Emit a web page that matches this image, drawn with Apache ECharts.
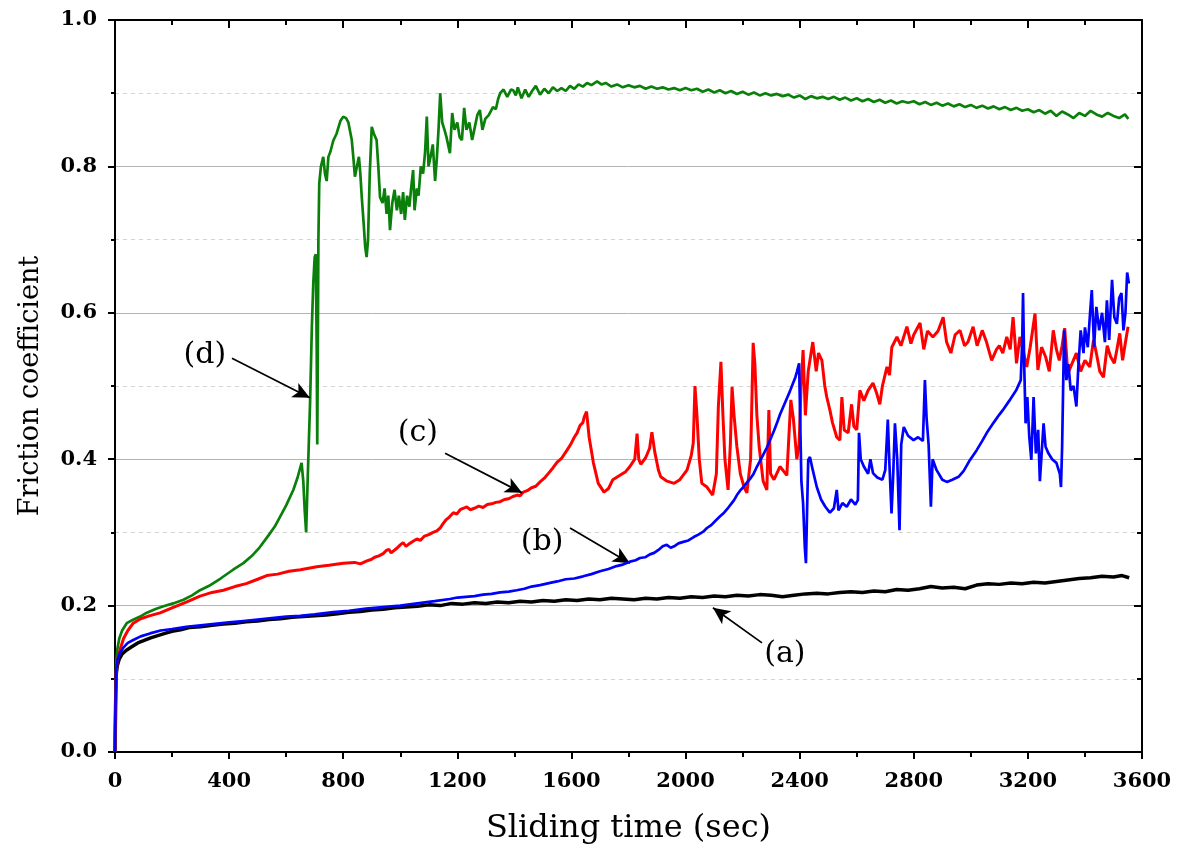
<!DOCTYPE html>
<html>
<head>
<meta charset="utf-8">
<script src="https://cdn.jsdelivr.net/npm/echarts@6/dist/echarts.min.js"></script>
<style>
html,body{margin:0;padding:0;background:#fff;}
#chart{width:1184px;height:850px;}
</style>
</head>
<body>
<div id="chart"></div>
<script>
// ---- axis ticks ----
const xTicks = [0, 400, 800, 1200, 1600, 2000, 2400, 2800, 3200, 3600];
const yTicks = [0.0, 0.2, 0.4, 0.6, 0.8, 1.0];

// ---- series (a) black: [time (sec), friction coefficient] ----
const seriesA = [[0,0],[2,0.06],[4,0.105],[8,0.118],[15,0.127],[25,0.134],[40,0.139],[60,0.144],[80,0.149],[100,0.152],[125,0.156],[150,0.159],[175,0.162],[200,0.165],[230,0.167],[260,0.170],[300,0.171],[340,0.173],[380,0.175],[420,0.176],[460,0.178],[500,0.179],[540,0.181],[580,0.182],[620,0.184],[660,0.185],[700,0.186],[740,0.187],[780,0.189],[820,0.191],[860,0.192],[900,0.194],[940,0.195],[980,0.197],[1020,0.198],[1060,0.199],[1100,0.201],[1140,0.200],[1180,0.203],[1220,0.202],[1260,0.204],[1300,0.203],[1340,0.205],[1380,0.204],[1420,0.206],[1460,0.205],[1500,0.207],[1540,0.206],[1580,0.208],[1620,0.207],[1660,0.209],[1700,0.208],[1740,0.210],[1780,0.209],[1820,0.208],[1860,0.210],[1900,0.209],[1940,0.211],[1980,0.210],[2020,0.212],[2060,0.211],[2100,0.213],[2140,0.212],[2180,0.214],[2220,0.213],[2260,0.215],[2300,0.214],[2340,0.212],[2380,0.214],[2420,0.216],[2460,0.217],[2500,0.216],[2540,0.218],[2580,0.219],[2620,0.218],[2660,0.220],[2700,0.219],[2740,0.222],[2780,0.221],[2820,0.223],[2860,0.226],[2900,0.224],[2940,0.225],[2980,0.223],[3020,0.228],[3060,0.230],[3100,0.229],[3140,0.231],[3180,0.230],[3220,0.232],[3260,0.231],[3300,0.233],[3340,0.235],[3380,0.237],[3420,0.238],[3460,0.240],[3500,0.239],[3530,0.241],[3555,0.238]];

// ---- series (b) blue ----
const seriesB = [[0,0],[2,0.07],[4,0.11],[8,0.125],[17,0.135],[30,0.143],[45,0.149],[64,0.153],[90,0.158],[123,0.162],[160,0.166],[200,0.168],[250,0.171],[300,0.173],[350,0.175],[400,0.177],[450,0.179],[500,0.181],[550,0.183],[600,0.185],[650,0.186],[700,0.188],[765,0.191],[820,0.193],[880,0.196],[940,0.198],[1000,0.200],[1060,0.203],[1120,0.206],[1174,0.209],[1200,0.211],[1230,0.212],[1260,0.213],[1290,0.215],[1320,0.216],[1350,0.218],[1380,0.219],[1408,0.221],[1435,0.223],[1460,0.226],[1490,0.228],[1525,0.231],[1550,0.233],[1580,0.236],[1610,0.237],[1641,0.240],[1670,0.243],[1700,0.247],[1730,0.250],[1758,0.254],[1780,0.256],[1805,0.260],[1825,0.262],[1840,0.265],[1858,0.266],[1875,0.270],[1890,0.272],[1905,0.276],[1920,0.281],[1934,0.283],[1948,0.279],[1960,0.281],[1975,0.285],[1992,0.287],[2010,0.289],[2030,0.294],[2045,0.297],[2062,0.301],[2075,0.306],[2090,0.310],[2105,0.316],[2121,0.322],[2135,0.327],[2150,0.334],[2160,0.339],[2170,0.344],[2180,0.351],[2191,0.357],[2203,0.362],[2215,0.368],[2226,0.373],[2237,0.379],[2248,0.388],[2260,0.397],[2272,0.406],[2285,0.416],[2297,0.427],[2310,0.439],[2320,0.449],[2331,0.461],[2343,0.472],[2355,0.483],[2366,0.493],[2377,0.504],[2385,0.512],[2390,0.519],[2398,0.531],[2402,0.45],[2406,0.37],[2412,0.34],[2418,0.28],[2422,0.258],[2426,0.33],[2430,0.399],[2436,0.403],[2446,0.385],[2460,0.362],[2475,0.345],[2490,0.335],[2506,0.327],[2520,0.333],[2530,0.358],[2536,0.33],[2550,0.34],[2565,0.335],[2580,0.345],[2595,0.338],[2604,0.344],[2608,0.436],[2614,0.40],[2625,0.39],[2640,0.38],[2648,0.40],[2657,0.381],[2672,0.375],[2690,0.372],[2700,0.385],[2709,0.454],[2715,0.39],[2722,0.326],[2728,0.38],[2734,0.449],[2742,0.40],[2750,0.303],[2756,0.42],[2765,0.444],[2780,0.432],[2799,0.426],[2815,0.43],[2832,0.425],[2839,0.508],[2845,0.455],[2852,0.42],[2860,0.335],[2866,0.40],[2880,0.385],[2900,0.372],[2916,0.369],[2935,0.372],[2957,0.376],[2975,0.384],[2997,0.399],[3020,0.412],[3040,0.425],[3056,0.436],[3080,0.450],[3100,0.461],[3112,0.467],[3135,0.480],[3160,0.495],[3175,0.508],[3180,0.56],[3183,0.627],[3187,0.53],[3192,0.449],[3198,0.485],[3205,0.43],[3212,0.399],[3220,0.485],[3228,0.408],[3236,0.44],[3242,0.37],[3249,0.372],[3255,0.449],[3262,0.417],[3272,0.408],[3285,0.40],[3300,0.395],[3312,0.38],[3316,0.362],[3320,0.417],[3327,0.576],[3335,0.508],[3342,0.53],[3350,0.494],[3360,0.50],[3370,0.472],[3376,0.52],[3385,0.576],[3395,0.545],[3400,0.58],[3410,0.553],[3418,0.60],[3424,0.631],[3432,0.553],[3440,0.608],[3450,0.576],[3460,0.60],[3470,0.56],[3477,0.617],[3485,0.563],[3495,0.645],[3503,0.594],[3512,0.585],[3520,0.62],[3528,0.627],[3535,0.576],[3542,0.60],[3548,0.655],[3554,0.64]];

// ---- series (c) red ----
const seriesC = [[0,0],[2,0.07],[4,0.11],[8,0.125],[17,0.139],[30,0.155],[45,0.166],[64,0.176],[90,0.182],[120,0.186],[158,0.190],[200,0.197],[252,0.205],[298,0.213],[340,0.218],[380,0.221],[420,0.226],[460,0.230],[500,0.236],[532,0.241],[570,0.243],[610,0.247],[650,0.249],[707,0.253],[750,0.255],[800,0.258],[840,0.259],[860,0.257],[883,0.261],[898,0.263],[910,0.266],[925,0.268],[940,0.271],[950,0.275],[960,0.277],[968,0.272],[975,0.274],[990,0.279],[1000,0.283],[1010,0.286],[1020,0.281],[1030,0.284],[1045,0.288],[1058,0.291],[1070,0.289],[1085,0.295],[1100,0.297],[1115,0.300],[1128,0.302],[1140,0.306],[1150,0.312],[1160,0.317],[1172,0.321],[1186,0.327],[1198,0.325],[1210,0.331],[1222,0.333],[1233,0.335],[1245,0.331],[1260,0.333],[1275,0.336],[1290,0.334],[1305,0.338],[1320,0.339],[1335,0.341],[1350,0.342],[1365,0.345],[1380,0.346],[1395,0.349],[1410,0.351],[1420,0.350],[1431,0.355],[1445,0.357],[1460,0.361],[1475,0.363],[1490,0.369],[1505,0.374],[1520,0.381],[1535,0.388],[1550,0.396],[1565,0.401],[1584,0.412],[1597,0.420],[1610,0.430],[1620,0.436],[1630,0.446],[1640,0.450],[1645,0.458],[1653,0.465],[1662,0.43],[1677,0.395],[1694,0.367],[1714,0.355],[1730,0.36],[1745,0.372],[1770,0.378],[1790,0.383],[1805,0.39],[1822,0.40],[1830,0.435],[1836,0.40],[1843,0.393],[1860,0.402],[1874,0.415],[1882,0.437],[1892,0.41],[1905,0.385],[1913,0.376],[1935,0.37],[1960,0.367],[1980,0.372],[2005,0.385],[2020,0.405],[2027,0.422],[2033,0.50],[2040,0.46],[2048,0.40],[2057,0.367],[2075,0.362],[2095,0.351],[2108,0.38],[2115,0.472],[2124,0.533],[2131,0.46],[2138,0.40],[2149,0.358],[2157,0.42],[2163,0.499],[2170,0.46],[2180,0.417],[2192,0.38],[2205,0.362],[2215,0.354],[2228,0.40],[2237,0.559],[2243,0.53],[2250,0.46],[2258,0.417],[2272,0.37],[2285,0.358],[2292,0.467],[2298,0.38],[2310,0.372],[2331,0.39],[2345,0.383],[2355,0.378],[2369,0.481],[2378,0.455],[2390,0.40],[2398,0.42],[2405,0.50],[2412,0.549],[2420,0.46],[2430,0.52],[2446,0.56],[2458,0.52],[2466,0.545],[2478,0.535],[2488,0.50],[2495,0.485],[2506,0.467],[2515,0.45],[2530,0.43],[2541,0.426],[2548,0.485],[2556,0.44],[2570,0.436],[2582,0.475],[2590,0.445],[2600,0.44],[2611,0.494],[2625,0.48],[2640,0.494],[2657,0.504],[2670,0.49],[2681,0.475],[2690,0.50],[2706,0.526],[2715,0.515],[2723,0.553],[2741,0.567],[2755,0.555],[2776,0.581],[2790,0.558],[2800,0.57],[2822,0.586],[2835,0.55],[2848,0.575],[2867,0.567],[2885,0.575],[2903,0.594],[2915,0.56],[2930,0.545],[2945,0.57],[2962,0.576],[2978,0.555],[2990,0.56],[3008,0.581],[3022,0.555],[3040,0.576],[3055,0.56],[3073,0.535],[3090,0.55],[3100,0.555],[3112,0.545],[3126,0.567],[3138,0.55],[3148,0.594],[3155,0.56],[3160,0.531],[3172,0.567],[3185,0.545],[3196,0.526],[3208,0.553],[3225,0.599],[3235,0.522],[3248,0.553],[3262,0.54],[3275,0.52],[3289,0.576],[3300,0.55],[3310,0.535],[3320,0.555],[3329,0.579],[3340,0.517],[3355,0.531],[3370,0.545],[3385,0.52],[3400,0.535],[3417,0.526],[3430,0.563],[3440,0.545],[3452,0.52],[3465,0.512],[3478,0.555],[3490,0.54],[3503,0.531],[3512,0.55],[3522,0.572],[3532,0.535],[3540,0.555],[3551,0.581]];

// ---- series (d) green ----
const seriesD = [[0,0],[2,0.08],[4,0.12],[8,0.14],[15,0.155],[25,0.166],[41,0.176],[60,0.180],[88,0.185],[110,0.190],[140,0.195],[170,0.199],[204,0.203],[240,0.208],[270,0.214],[298,0.221],[330,0.227],[370,0.237],[414,0.249],[450,0.258],[480,0.268],[508,0.280],[540,0.297],[560,0.308],[578,0.321],[600,0.337],[625,0.358],[640,0.375],[654,0.395],[660,0.37],[665,0.33],[670,0.30],[676,0.38],[684,0.48],[690,0.58],[695,0.64],[700,0.676],[704,0.68],[707,0.55],[709,0.42],[711,0.55],[713,0.70],[716,0.777],[722,0.80],[730,0.813],[736,0.79],[742,0.78],[748,0.813],[755,0.82],[765,0.835],[777,0.845],[790,0.862],[800,0.868],[810,0.866],[818,0.86],[830,0.836],[836,0.81],[841,0.786],[848,0.80],[855,0.813],[860,0.79],[865,0.758],[872,0.72],[877,0.69],[882,0.676],[887,0.70],[893,0.79],[900,0.854],[907,0.845],[917,0.836],[923,0.80],[929,0.758],[938,0.75],[945,0.77],[952,0.735],[958,0.76],[964,0.713],[972,0.75],[980,0.768],[988,0.74],[995,0.76],[1003,0.735],[1010,0.765],[1016,0.727],[1024,0.76],[1032,0.745],[1038,0.77],[1045,0.795],[1050,0.74],[1058,0.77],[1064,0.76],[1072,0.8],[1080,0.79],[1087,0.82],[1093,0.868],[1099,0.80],[1106,0.813],[1114,0.83],[1122,0.78],[1128,0.81],[1134,0.85],[1140,0.90],[1147,0.86],[1155,0.85],[1162,0.84],[1174,0.818],[1182,0.873],[1190,0.85],[1200,0.86],[1208,0.84],[1216,0.836],[1224,0.88],[1232,0.85],[1242,0.86],[1252,0.836],[1262,0.855],[1270,0.87],[1279,0.877],[1288,0.85],[1298,0.865],[1310,0.87],[1325,0.881],[1335,0.878],[1343,0.892],[1350,0.90],[1362,0.905],[1375,0.895],[1388,0.905],[1396,0.904],[1405,0.897],[1412,0.908],[1425,0.893],[1438,0.905],[1450,0.895],[1462,0.903],[1475,0.91],[1490,0.898],[1505,0.906],[1520,0.90],[1535,0.908],[1550,0.903],[1565,0.907],[1580,0.903],[1595,0.91],[1610,0.906],[1625,0.912],[1640,0.909],[1655,0.914],[1670,0.911],[1690,0.916],[1705,0.912],[1720,0.914],[1740,0.909],[1760,0.912],[1780,0.908],[1800,0.911],[1820,0.908],[1840,0.910],[1860,0.906],[1880,0.909],[1900,0.906],[1920,0.908],[1940,0.905],[1960,0.907],[1980,0.904],[2000,0.907],[2020,0.904],[2040,0.906],[2060,0.902],[2080,0.905],[2100,0.901],[2120,0.904],[2140,0.900],[2160,0.903],[2180,0.899],[2200,0.902],[2220,0.898],[2240,0.901],[2260,0.897],[2280,0.900],[2300,0.897],[2320,0.899],[2340,0.896],[2360,0.898],[2380,0.894],[2400,0.897],[2420,0.892],[2440,0.896],[2460,0.893],[2480,0.895],[2500,0.892],[2520,0.895],[2540,0.891],[2560,0.894],[2580,0.890],[2600,0.893],[2620,0.889],[2640,0.892],[2660,0.888],[2680,0.891],[2700,0.887],[2720,0.890],[2740,0.886],[2760,0.889],[2780,0.887],[2800,0.889],[2820,0.885],[2840,0.888],[2860,0.884],[2880,0.887],[2900,0.883],[2920,0.886],[2940,0.882],[2960,0.885],[2980,0.881],[3000,0.884],[3020,0.880],[3040,0.883],[3060,0.879],[3080,0.882],[3100,0.878],[3120,0.881],[3140,0.877],[3160,0.880],[3180,0.876],[3200,0.878],[3220,0.874],[3240,0.877],[3260,0.872],[3280,0.876],[3300,0.869],[3320,0.875],[3340,0.871],[3360,0.866],[3380,0.873],[3400,0.869],[3420,0.876],[3440,0.871],[3460,0.868],[3480,0.873],[3500,0.869],[3520,0.866],[3540,0.871],[3552,0.865]];

// ---- annotations ----
const labelTexts = ['(a)', '(b)', '(c)', '(d)'];
const labelAt = [[2348, 0.133], [1497, 0.287], [1062, 0.436], [315, 0.542]];
const arrowFrom = [[2268, 0.149], [1595, 0.306], [1157, 0.408], [410, 0.538]];
const arrowTo = [[2096, 0.197], [1805, 0.258], [1427, 0.354], [683, 0.484]];

const FONT = 'DejaVu Serif';
const chart = echarts.init(document.getElementById('chart'), null, {renderer: 'canvas'});

const axisLineStyle = {color: '#000', width: 2};
const option = {
  animation: false,
  backgroundColor: '#fff',
  grid: {left: 115, right: 42, top: 20, bottom: 98, containLabel: false},
  xAxis: [{
    type: 'value', position: 'bottom',
    min: xTicks[0], max: xTicks[xTicks.length - 1], interval: xTicks[1] - xTicks[0],
    axisLine: {show: true, onZero: false, lineStyle: axisLineStyle},
    axisTick: {show: true, inside: false, length: 7, lineStyle: {color: '#000', width: 2}},
    minorTick: {show: true, splitNumber: 2, length: 5, lineStyle: {color: '#000', width: 2}},
    axisLabel: {show: true, margin: 19, color: '#000', fontFamily: FONT, fontWeight: 'bold', fontSize: 21,
      formatter: v => String(v)},
    splitLine: {show: false},
    name: 'Sliding time (sec)', nameLocation: 'middle', nameGap: 61,
    nameTextStyle: {fontFamily: FONT, fontSize: 32, color: '#000'}
  }, {
    type: 'value', position: 'top',
    min: xTicks[0], max: xTicks[xTicks.length - 1], interval: xTicks[1] - xTicks[0],
    axisLine: {show: true, onZero: false, lineStyle: axisLineStyle},
    axisTick: {show: true, inside: true, length: 8, lineStyle: {color: '#000', width: 2}},
    minorTick: {show: true, splitNumber: 2, length: 5, lineStyle: {color: '#000', width: 2}},
    axisLabel: {show: false},
    splitLine: {show: false}
  }],
  yAxis: [{
    type: 'value', position: 'left',
    min: yTicks[0], max: yTicks[yTicks.length - 1], interval: yTicks[1] - yTicks[0],
    axisLine: {show: true, onZero: false, lineStyle: axisLineStyle},
    axisTick: {show: true, inside: false, length: 7, lineStyle: {color: '#000', width: 2}},
    minorTick: {show: true, splitNumber: 2, length: 4, lineStyle: {color: '#000', width: 2}},
    axisLabel: {show: true, margin: 18, color: '#000', fontFamily: FONT, fontWeight: 'bold', fontSize: 21,
      formatter: v => v.toFixed(1)},
    splitLine: {show: true, lineStyle: {color: '#b4b4b4', width: 1}},
    minorSplitLine: {show: true, lineStyle: {color: '#d4d4d4', width: 1, type: [4, 4]}},
    name: 'Friction coefficient', nameLocation: 'middle', nameGap: 71, nameRotate: 90,
    nameTextStyle: {fontFamily: FONT, fontSize: 27, color: '#000'}
  }, {
    type: 'value', position: 'right',
    min: yTicks[0], max: yTicks[yTicks.length - 1], interval: yTicks[1] - yTicks[0],
    axisLine: {show: true, onZero: false, lineStyle: axisLineStyle},
    axisTick: {show: true, inside: true, length: 8, lineStyle: {color: '#000', width: 2}},
    minorTick: {show: true, splitNumber: 2, length: 5, lineStyle: {color: '#000', width: 2}},
    axisLabel: {show: false},
    splitLine: {show: false}
  }],
  series: [
    {name: '(a)', type: 'line', data: seriesA, showSymbol: false, symbol: 'none', silent: true,
      lineStyle: {color: '#000000', width: 3.5}, z: 2,
      markLine: {
        silent: true, symbol: ['none', 'arrow'], symbolSize: [12, 17], animation: false,
        label: {show: false},
        lineStyle: {color: '#000', width: 1.7, type: 'solid'},
        emphasis: {disabled: true},
        data: arrowFrom.map((p, i) => [{coord: p}, {coord: arrowTo[i]}])
      }},
    {name: '(d)', type: 'line', data: seriesD, showSymbol: false, symbol: 'none', silent: true,
      lineStyle: {color: '#0a800a', width: 2.7}, z: 3},
    {name: '(c)', type: 'line', data: seriesC, showSymbol: false, symbol: 'none', silent: true,
      lineStyle: {color: '#ff0000', width: 3}, z: 4},
    {name: '(b)', type: 'line', data: seriesB, showSymbol: false, symbol: 'none', silent: true,
      lineStyle: {color: '#0000ff', width: 2.7}, z: 5}
  ]
};
chart.setOption(option);

// annotation texts placed through the axes' scales
const graphics = labelTexts.map((t, i) => {
  const p = chart.convertToPixel({xAxisIndex: 0, yAxisIndex: 0}, labelAt[i]);
  return {
    type: 'text', x: p[0], y: p[1], z: 100, silent: true,
    style: {text: t, fill: '#000', font: '30px "DejaVu Serif"', align: 'center', verticalAlign: 'middle'}
  };
});
chart.setOption({graphic: graphics});
</script>
</body>
</html>
